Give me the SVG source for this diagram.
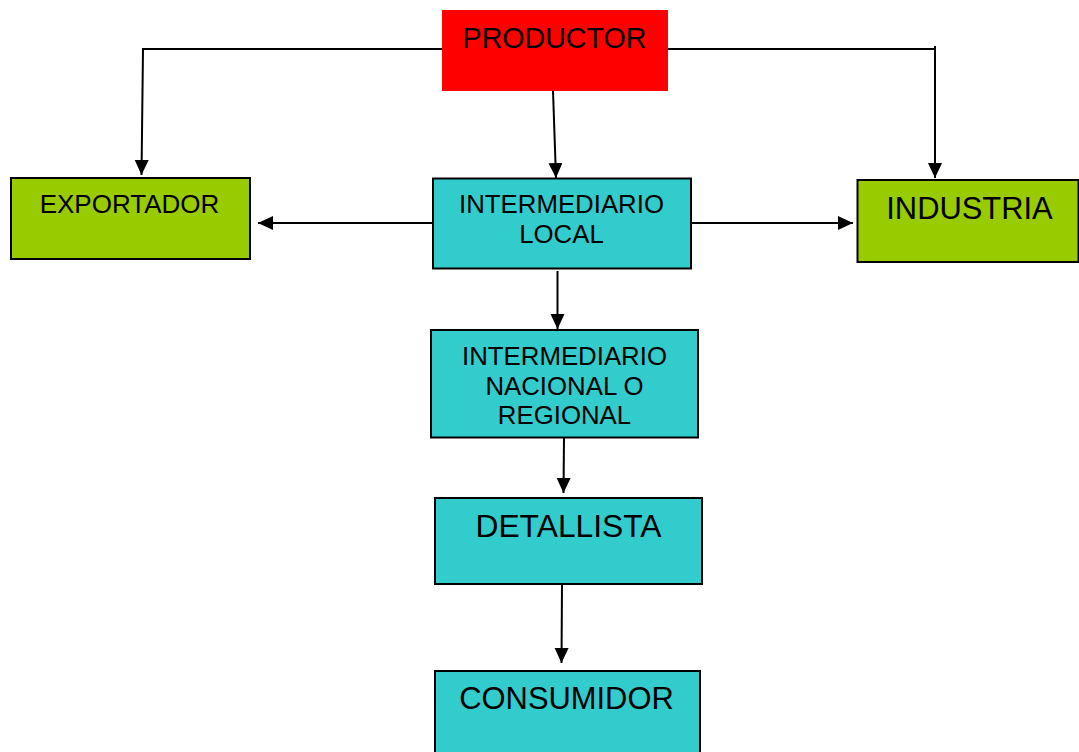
<svg xmlns="http://www.w3.org/2000/svg" width="1079" height="752" viewBox="0 0 1079 752">
<style>
.box{stroke:#000;stroke-width:2}
.cyan{fill:#33cccc}
.green{fill:#99cc00}
.t{font-family:"Liberation Sans",Arial,sans-serif;fill:#000;text-anchor:middle}
.c{fill:none;stroke:#000;stroke-width:2}
</style>
<defs>
<marker id="ah" markerUnits="userSpaceOnUse" markerWidth="16" markerHeight="15" refX="15" refY="7" orient="auto">
<path d="M0,0 L15,7 L0,14 z" fill="#000"/>
</marker>
</defs>
<rect width="1079" height="752" fill="#fff"/>
<g id="connectors">
<polyline class="c" points="442,49 143,49 141.5,175" marker-end="url(#ah)"/>
<polyline class="c" points="668,49 935,49 935,178" marker-end="url(#ah)"/>
<line class="c" x1="935" y1="46" x2="935" y2="50"/>
<line class="c" x1="553" y1="91" x2="556" y2="178" marker-end="url(#ah)"/>
<line class="c" x1="433" y1="223" x2="258" y2="223" marker-end="url(#ah)"/>
<line class="c" x1="691" y1="223" x2="853" y2="223" marker-end="url(#ah)"/>
<line class="c" x1="557.5" y1="271" x2="557.5" y2="329" marker-end="url(#ah)"/>
<line class="c" x1="564" y1="438" x2="563.5" y2="493" marker-end="url(#ah)"/>
<line class="c" x1="562" y1="584" x2="561.5" y2="663" marker-end="url(#ah)"/>
</g>
<g id="productor">
<rect x="442" y="10" width="226" height="81" fill="#ff0000"/>
<text class="t" x="554.5" y="48" font-size="28.6">PRODUCTOR</text>
</g>
<g id="exportador">
<rect class="box green" x="11" y="178" width="239" height="81"/>
<text class="t" x="129.5" y="213" font-size="26">EXPORTADOR</text>
</g>
<g id="intermediario-local">
<rect class="box cyan" x="433" y="178.5" width="258" height="90"/>
<text class="t" x="561.5" y="213" font-size="25.8">INTERMEDIARIO</text>
<text class="t" x="561.5" y="243" font-size="25.8">LOCAL</text>
</g>
<g id="industria">
<rect class="box green" x="857.5" y="180" width="221" height="82"/>
<text class="t" x="969.5" y="219" font-size="30.9">INDUSTRIA</text>
</g>
<g id="intermediario-nacional">
<rect class="box cyan" x="431" y="330" width="267" height="107.5"/>
<text class="t" x="564.5" y="365" font-size="25.8">INTERMEDIARIO</text>
<text class="t" x="564.5" y="395" font-size="25.8">NACIONAL O</text>
<text class="t" x="564.5" y="424" font-size="25.8">REGIONAL</text>
</g>
<g id="detallista">
<rect class="box cyan" x="435" y="498" width="267" height="86"/>
<text class="t" x="568.5" y="537" font-size="31.8">DETALLISTA</text>
</g>
<g id="consumidor">
<rect class="box cyan" x="435" y="671" width="265" height="90"/>
<text class="t" x="566.5" y="709" font-size="30.9">CONSUMIDOR</text>
</g>
</svg>
